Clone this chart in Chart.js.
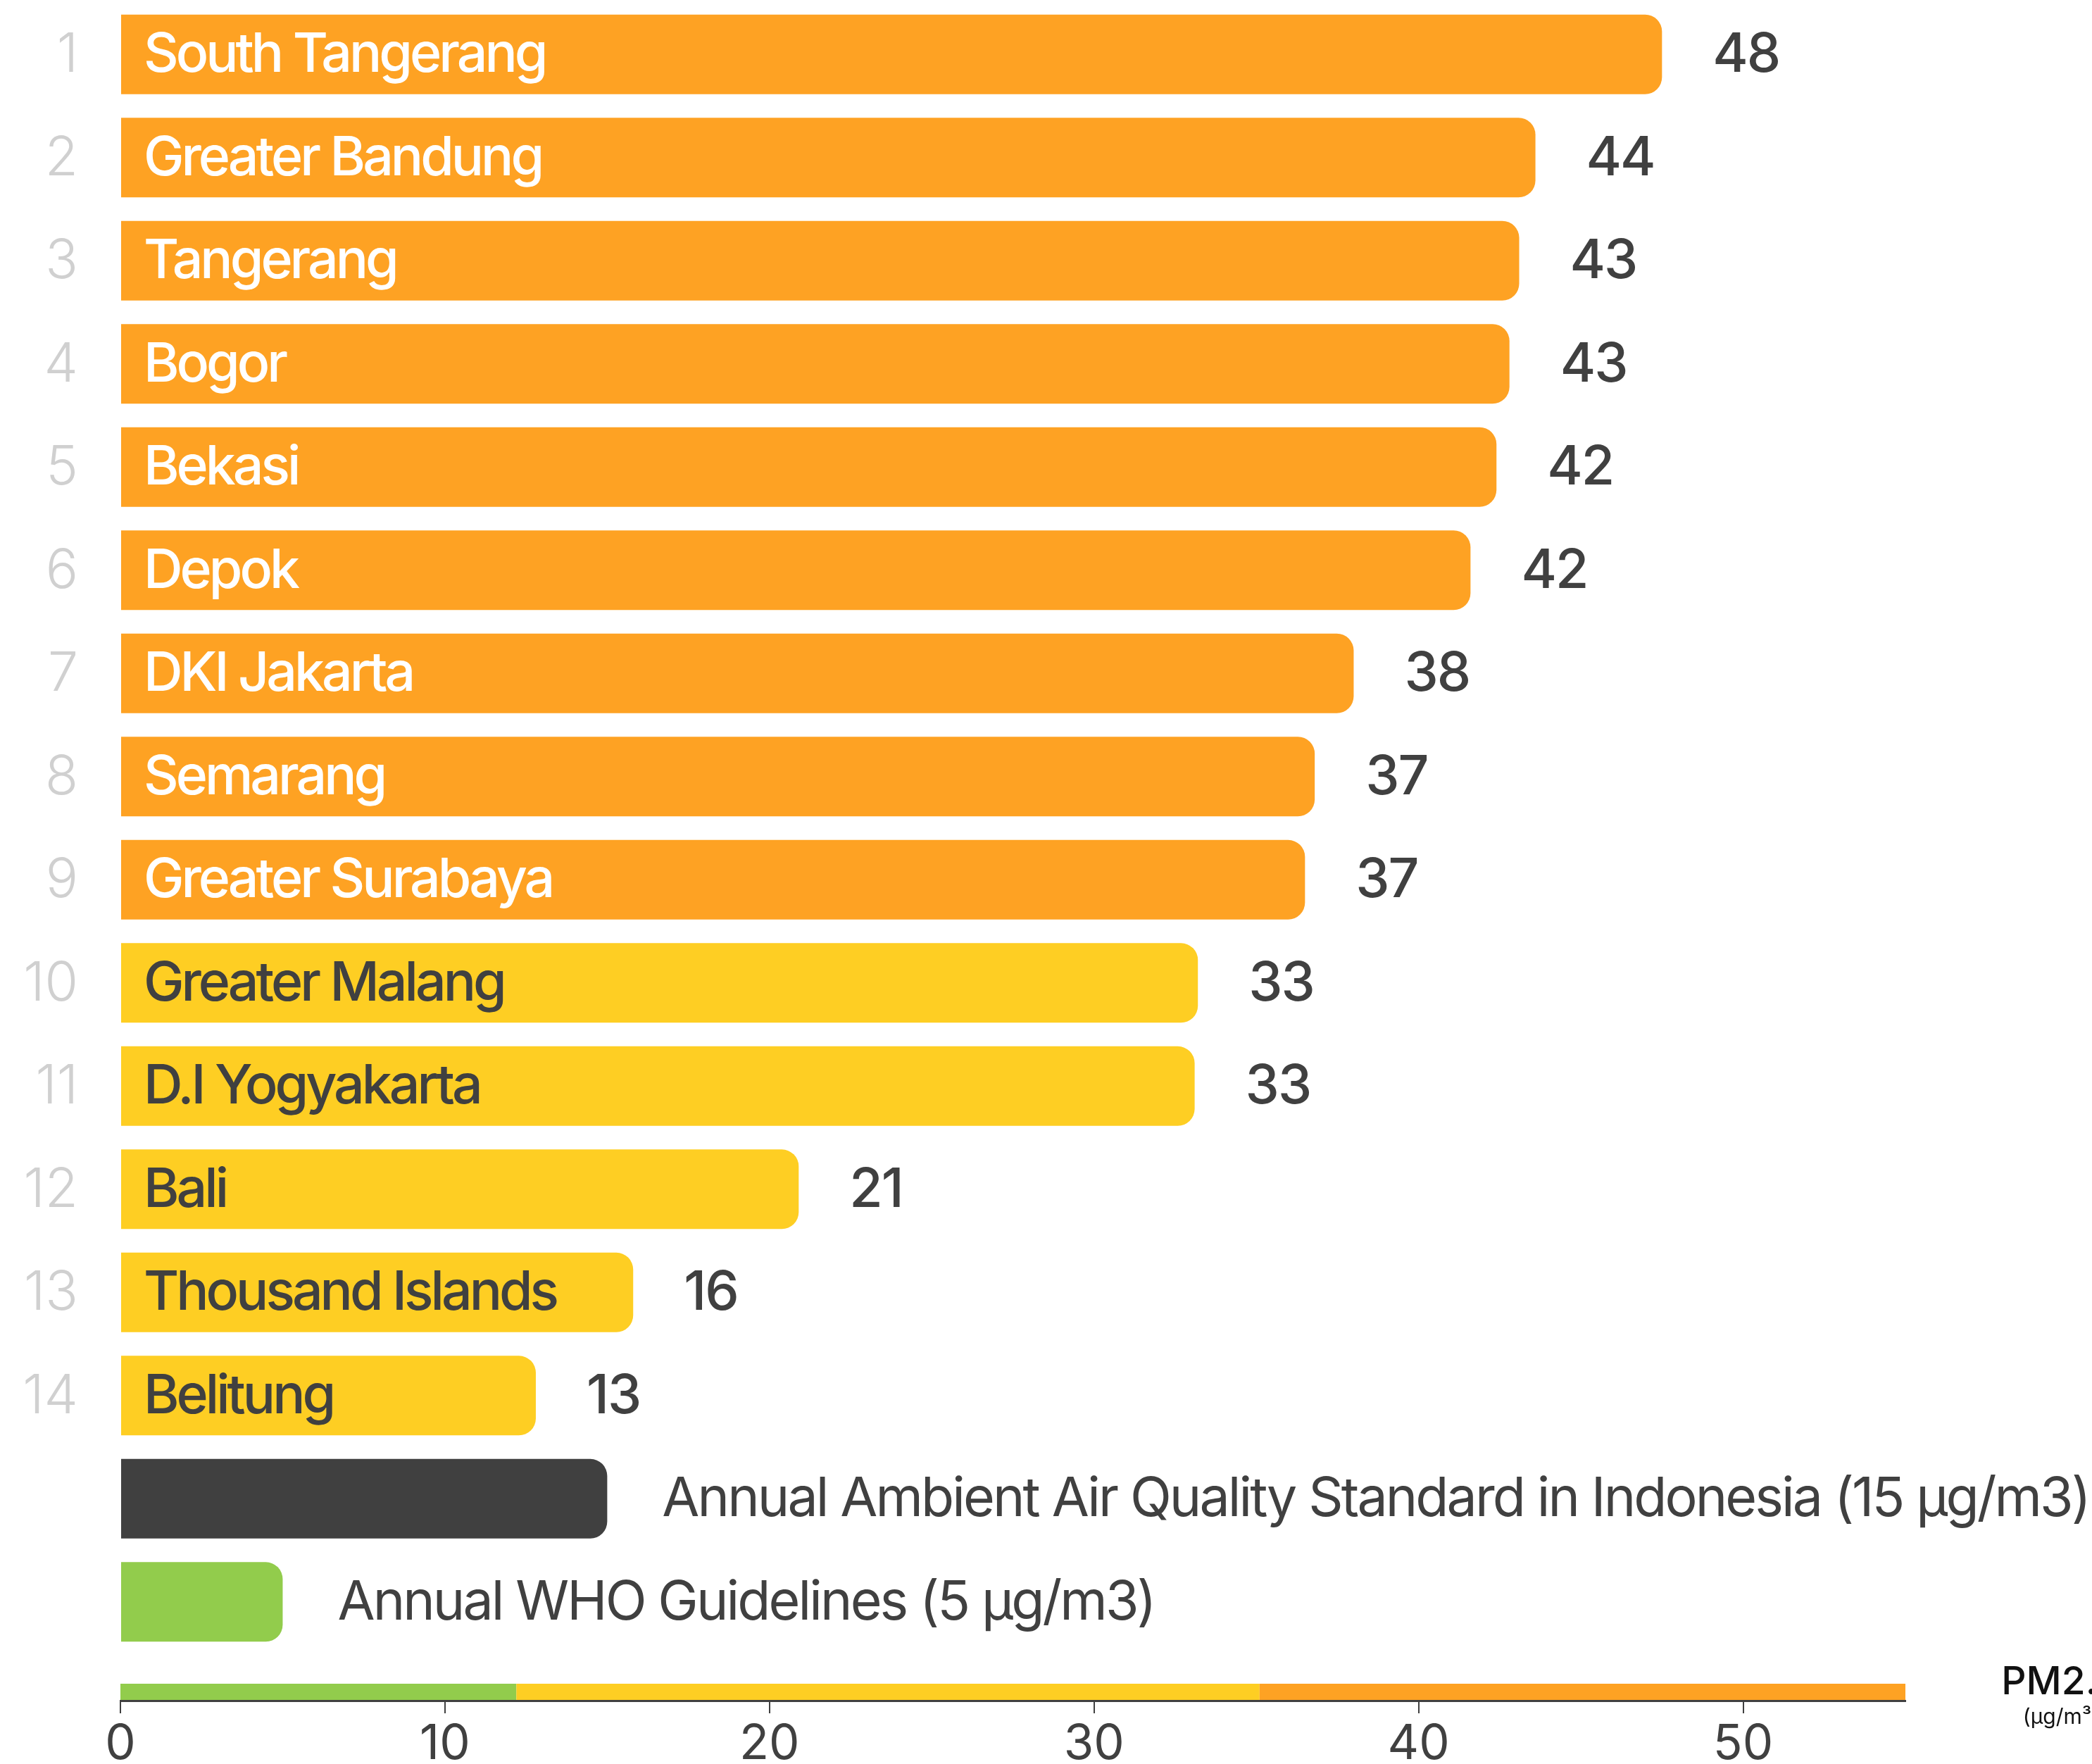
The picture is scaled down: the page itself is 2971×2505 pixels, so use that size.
<!DOCTYPE html>
<html>
<head>
<meta charset="utf-8">
<title>PM2.5 annual average by city</title>
<script src="https://cdn.jsdelivr.net/npm/chart.js@4.4.1/dist/chart.umd.min.js"></script>
<style>
  html, body { margin: 0; padding: 0; background: #fff; }
  #wrap { width: 2971px; height: 2505px; }
</style>
</head>
<body>
<div id="wrap"><canvas id="pmChart" width="2971" height="2505"></canvas></div>
<script>
// annual PM2.5 (µg/m3), ranked
const cities = [
  "South Tangerang", "Greater Bandung", "Tangerang", "Bogor", "Bekasi", "Depok",
  "DKI Jakarta", "Semarang", "Greater Surabaya", "Greater Malang", "D.I Yogyakarta",
  "Bali", "Thousand Islands", "Belitung"
];
const pm25 = [47.5, 43.6, 43.1, 42.8, 42.4, 41.6, 38.0, 36.8, 36.5, 33.2, 33.1, 20.9, 15.8, 12.8];

// reference lines drawn as the last two bars
const standardLabels = [
  "Annual Ambient Air Quality Standard in Indonesia (15 µg/m3)",
  "Annual WHO Guidelines (5 µg/m3)"
];
const standardValues = [15, 5];

// colour band along the axis
const bandEdges = [0, 12.2, 35.1, 55];
const xTicks = [0, 10, 20, 30, 40, 50];

const GREEN = "#92CC4C";
const YELLOW = "#FECE23";
const ORANGE = "#FEA223";
const DARK = "#404040";
const bandColors = [GREEN, YELLOW, ORANGE];

const values = pm25.concat(standardValues);
const rows = values.map((v, i) => i);
const barColors = pm25.map((v) => (v >= bandEdges[2] ? ORANGE : v >= bandEdges[1] ? YELLOW : GREEN))
  .concat([DARK, GREEN]);

// rank numbers, names inside the bars, values / captions after them
const barText = {
  id: "barText",
  afterDatasetsDraw(chart) {
    const ctx = chart.ctx;
    const left = chart.chartArea.left;
    const meta = chart.getDatasetMeta(0);
    ctx.save();
    ctx.textBaseline = "middle";
    meta.data.forEach((bar, i) => {
      const v = values[i];
      const y = bar.y + 2;
      if (i < cities.length) {
        ctx.textAlign = "right";
        ctx.letterSpacing = "0px";
        ctx.font = "300 77px Inter";
        ctx.fillStyle = "#D0D0D0";
        ctx.fillText(String(i + 1), left - 60, y);

        ctx.textAlign = "left";
        ctx.letterSpacing = "-4px";
        ctx.font = "500 77px Inter";
        ctx.fillStyle = v >= bandEdges[2] ? "#FFFFFF" : DARK;
        ctx.fillText(cities[i], bar.base + 32, y);
        ctx.letterSpacing = "-2px";
        ctx.fillStyle = DARK;
        ctx.fillText(String(Math.round(v)), bar.x + 72, y);
      } else {
        ctx.textAlign = "left";
        ctx.letterSpacing = "-2.9px";
        ctx.font = "400 77px Inter";
        ctx.fillStyle = DARK;
        ctx.fillText(standardLabels[i - cities.length], bar.x + 78, y);
      }
    });
    ctx.restore();
  }
};

const aqiBand = {
  id: "aqiBand",
  afterDatasetsDraw(chart) {
    const ctx = chart.ctx;
    const x = chart.scales.x;
    const bottom = chart.chartArea.bottom - 1;
    ctx.save();
    for (let i = 0; i < bandColors.length; i++) {
      const x0 = x.getPixelForValue(bandEdges[i]);
      const x1 = x.getPixelForValue(bandEdges[i + 1]);
      ctx.fillStyle = bandColors[i];
      ctx.fillRect(x0, bottom - 23, x1 - x0, 23);
    }
    ctx.restore();
  }
};

const unitTitle = {
  id: "unitTitle",
  afterDraw(chart) {
    const ctx = chart.ctx;
    const cx = chart.chartArea.right + 221;
    const by = chart.chartArea.bottom;
    ctx.save();
    ctx.textAlign = "center";
    ctx.textBaseline = "middle";
    ctx.fillStyle = "#111111";
    ctx.font = "500 55px Inter";
    ctx.fillText("PM2.5", cx, by - 26);
    ctx.font = "400 30px Inter";
    ctx.fillText("(µg/m³)", cx, by + 24);
    ctx.restore();
  }
};

function drawChart() {
  const ctx = document.getElementById("pmChart").getContext("2d");
  new Chart(ctx, {
    type: "bar",
    data: {
      datasets: [
        {
          data: values.map((v, i) => ({ x: v, y: i })),
          backgroundColor: barColors,
          borderWidth: 0,
          borderSkipped: false,
          borderRadius: { topLeft: 0, bottomLeft: 0, topRight: 24, bottomRight: 24 },
          categoryPercentage: 1,
          barPercentage: 0.771
        }
      ]
    },
    options: {
      indexAxis: "y",
      responsive: false,
      animation: false,
      devicePixelRatio: 1,
      layout: { padding: { top: 4, right: 265, left: 171, bottom: 0 } },
      plugins: {
        legend: { display: false },
        tooltip: { enabled: false }
      },
      scales: {
        x: {
          type: "linear",
          position: "bottom",
          bounds: "data",
          min: 0,
          max: 55,
          afterFit(scale) { scale.height = 90; },
          afterBuildTicks(scale) { scale.ticks = xTicks.map((v) => ({ value: v })); },
          border: { display: true, color: DARK, width: 3 },
          grid: { drawOnChartArea: false, drawTicks: true, tickLength: 18, color: DARK, lineWidth: 2 },
          ticks: {
            font: { family: "Inter", size: 69, weight: 400 },
            color: DARK,
            padding: 3,
            maxRotation: 0,
            autoSkip: false
          }
        },
        y: {
          // one unit per row; the space below the last row holds the colour band
          type: "linear",
          display: false,
          reverse: true,
          bounds: "data",
          offset: false,
          min: -0.5,
          max: 15.957,
          afterBuildTicks(scale) { scale.ticks = rows.map((v) => ({ value: v })); }
        }
      }
    },
    plugins: [aqiBand, barText, unitTitle]
  });
}

Promise.all([
  document.fonts.load("500 77px Inter"),
  document.fonts.load("400 77px Inter"),
  document.fonts.load("300 77px Inter")
]).then(drawChart, drawChart);
</script>
</body>
</html>
